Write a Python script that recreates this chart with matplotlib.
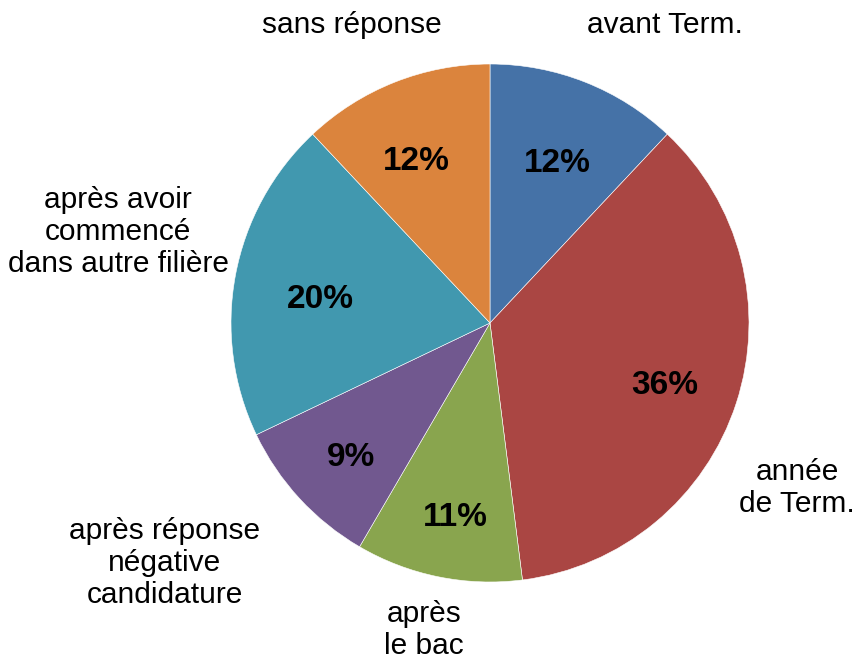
import matplotlib
matplotlib.use("Agg")
import matplotlib.pyplot as plt

plt.rcParams['font.family'] = ['Liberation Sans', 'DejaVu Sans']

# slices, clockwise from 12 o'clock
categories = ['avant Term.', 'année\nde Term.', 'après\nle bac',
              'après réponse\nnégative\ncandidature',
              'après avoir\ncommencé\ndans autre filière', 'sans réponse']
shares = [12.0, 36.0, 10.4, 9.5, 20.1, 12.0]   # angles
pct_labels = ['12%', '36%', '11%', '9%', '20%', '12%']
colors = ['#4572A7', '#AA4643', '#89A54E', '#71588F', '#4198AF', '#DB843D']

# layout (pixel units, y from top)
W, H = 858, 660
CX, CY, R = 490, 323, 259
pct_pos = [(557, 163), (665, 385), (455, 517), (351, 458), (320, 300), (416, 162)]
cat_pos = [(665, 25), (797, 488), (424, 630), (165, 563), (118, 232), (352, 25)]

fig = plt.figure(figsize=(W / 100, H / 100), dpi=100)
ax = fig.add_axes([0, 0, 1, 1])

wedges, _ = ax.pie(shares, colors=colors, startangle=90, counterclock=False,
                   center=(CX, H - CY), radius=R, frame=True,
                   wedgeprops=dict(edgecolor='white', linewidth=0.4))
ax.set_xlim(0, W)
ax.set_ylim(0, H)
ax.set_aspect('equal')
ax.axis('off')

for lab, (x, y) in zip(pct_labels, pct_pos):
    ax.text(x, H - y, lab, ha='center', va='center', fontsize=24,
            fontweight='bold', color='black')

for lab, (x, y) in zip(categories, cat_pos):
    ax.text(x, H - y, lab, ha='center', va='center', fontsize=21.5,
            color='black', linespacing=1.2, multialignment='center')

fig.savefig('out.png', dpi=100)
